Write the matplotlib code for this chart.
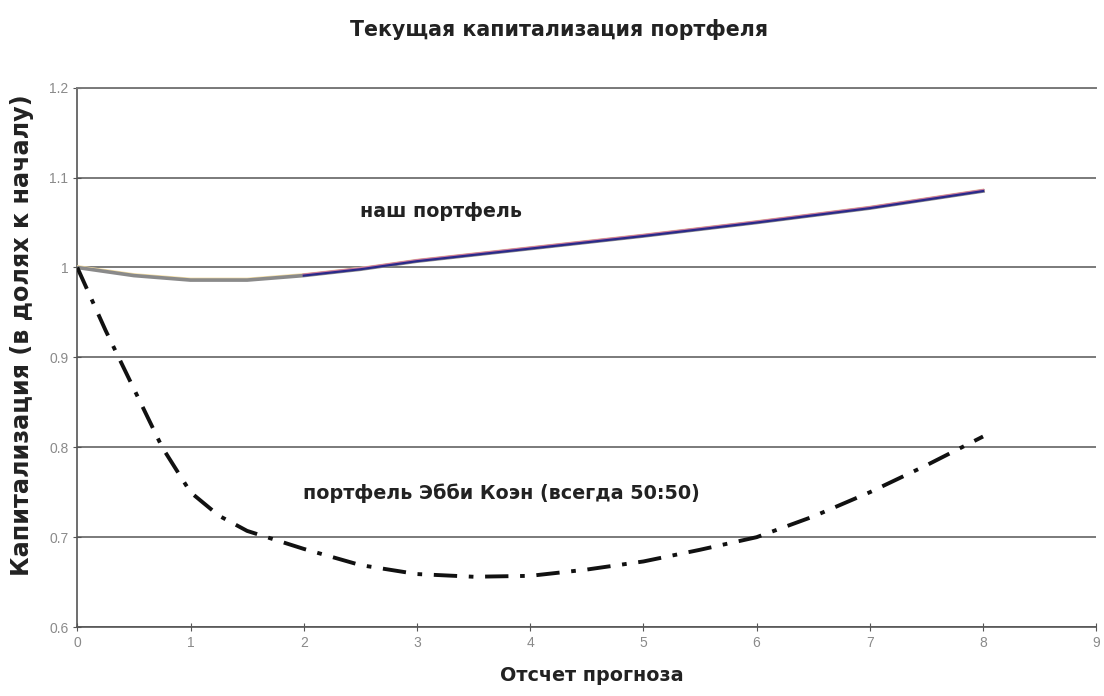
import matplotlib
matplotlib.use("Agg")
import matplotlib.pyplot as plt

title = "Текущая капитализация портфеля"
xlabel = "Отсчет прогноза"
ylabel = "Капитализация (в долях к началу)"
label_ours = "наш портфель"
label_cohen = "портфель Эбби Коэн (всегда 50:50)"

# our portfolio
x_ours = [0, 0.5, 1, 1.5, 2, 2.5, 3, 4, 5, 6, 7, 8]
y_ours = [1.0, 0.991, 0.986, 0.986, 0.991, 0.998, 1.007, 1.021, 1.035, 1.050, 1.066, 1.085]
# Abby Cohen 50:50 portfolio
x_cohen = [0, 0.25, 0.5, 0.75, 1, 1.25, 1.5, 2, 2.5, 3, 3.5, 4, 4.5, 5, 5.5, 6, 6.5, 7, 7.5, 8]
y_cohen = [1.0, 0.93, 0.865, 0.80, 0.75, 0.724, 0.707, 0.687, 0.669, 0.659, 0.656, 0.657,
           0.664, 0.673, 0.686, 0.700, 0.723, 0.750, 0.780, 0.812]

xticks = list(range(0, 10))
yticks = [0.6, 0.7, 0.8, 0.9, 1.0, 1.1, 1.2]
ytick_labels = ["0.6", "0.7", "0.8", "0.9", "1", "1.1", "1.2"]

bold_font = ["DejaVu Sans"]
tick_font = ["Liberation Sans", "DejaVu Sans"]

fig = plt.figure(figsize=(11.04, 6.96), dpi=100)
ax = fig.add_axes([0.070, 0.099, 0.923, 0.775])

ax.set_xlim(0, 9)
ax.set_ylim(0.6, 1.2)
ax.set_yticks(yticks)
ax.set_yticklabels(ytick_labels)
ax.set_xticks(xticks)
ax.grid(axis="y", color="#7a7a7a", linewidth=1.4)
ax.set_axisbelow(True)

ax.spines["right"].set_visible(False)
ax.spines["top"].set_color("#7a7a7a")
ax.spines["top"].set_linewidth(1.4)
ax.spines["left"].set_color("#555555")
ax.spines["bottom"].set_color("#555555")
ax.spines["left"].set_linewidth(1.2)
ax.spines["bottom"].set_linewidth(1.2)

ax.tick_params(axis="both", direction="inout", length=6, color="#555555",
               labelcolor="#8a8a8a", labelsize=10)
for lab in ax.get_xticklabels() + ax.get_yticklabels():
    lab.set_family(tick_font)

# our portfolio: overlapping series
ax.plot(x_ours, [v + 0.0015 for v in y_ours], color="#f2dca0", lw=1.6, zorder=3)
ax.plot(x_ours, y_ours, color="#8a8a8a", lw=2.6, zorder=3)
ax.plot(x_ours[4:], [v + 0.001 for v in y_ours[4:]], color="#d07aa0", lw=1.8, zorder=4)
ax.plot(x_ours[4:], y_ours[4:], color="#2a2a8a", lw=1.6, zorder=5)

# Cohen portfolio
ax.plot(x_cohen, y_cohen, color="#111111", lw=2.8, zorder=4,
        linestyle=(0, (6, 3, 1.2, 3)))

ax.text(3.21, 1.062, label_ours, ha="center", va="center", fontsize=13.7,
        fontweight="bold", family=bold_font, color="#222222")
ax.text(3.75, 0.749, label_cohen, ha="center", va="center", fontsize=13.8,
        fontweight="bold", family=bold_font, color="#222222")

fig.text(0.506, 0.958, title, ha="center", va="center", fontsize=14.8,
         fontweight="bold", family=bold_font, color="#222222")
fig.text(0.536, 0.030, xlabel, ha="center", va="center", fontsize=13.8,
         fontweight="bold", family=bold_font, color="#222222")
fig.text(0.020, 0.519, ylabel, ha="center", va="center", rotation=90, fontsize=17.2,
         fontweight="bold", family=bold_font, color="#222222")

fig.savefig("out.png", dpi=100)
